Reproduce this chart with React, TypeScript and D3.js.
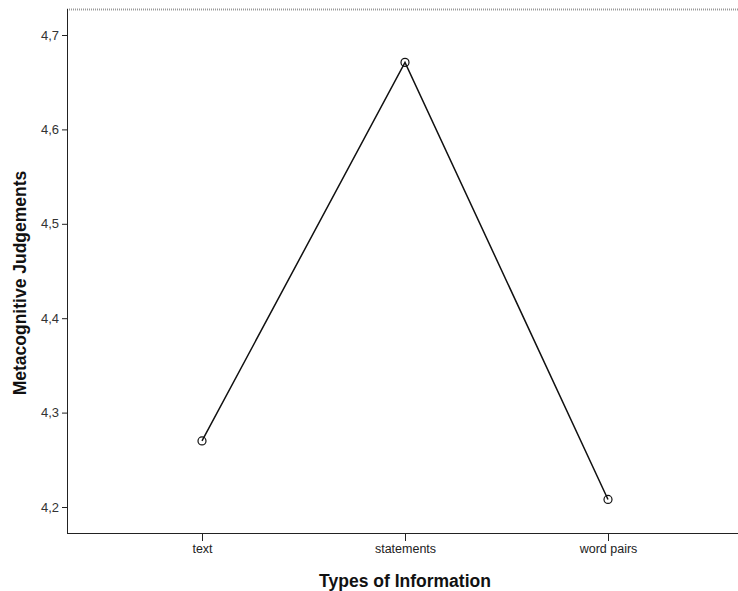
import React, { useRef, useEffect } from "react";
import * as d3 from "d3";

const categories = ["text", "statements", "word pairs"];
const means = [4.27, 4.671, 4.208];
const yTicks = [4.2, 4.3, 4.4, 4.5, 4.6, 4.7];

function App() {
  const ref = useRef<SVGSVGElement>(null);
  const width = 738;
  const height = 591;

  useEffect(() => {
    const svg = d3.select(ref.current);
    svg.selectAll("*").remove();

    const left = 67, top = 9, bottom = 533, right = 743;
    const font = "Arial, 'Liberation Sans', sans-serif";

    const x = d3.scalePoint<string>().domain(categories).range([202, 608]);
    const y = d3.scaleLinear().domain([4.2, 4.7]).range([507, 35]);

    // top frame line (dotted gray)
    svg.append("line")
      .attr("x1", left).attr("x2", right).attr("y1", top + 0.5).attr("y2", top + 0.5)
      .attr("stroke", "#999").attr("stroke-width", 2).attr("stroke-dasharray", "1 1");

    // y axis
    const yAxis = svg.append("g").attr("transform", `translate(${left},0)`)
      .call(d3.axisLeft(y).tickValues(yTicks).tickSize(5).tickPadding(3)
        .tickFormat(d => d3.format(".1f")(d as number).replace(".", ",")));
    yAxis.select(".domain").attr("d", `M0.5,${top}V${bottom}`).attr("stroke", "#222");
    yAxis.selectAll("line").attr("stroke", "#222");
    yAxis.selectAll("text").attr("font-family", font).attr("font-size", 13).attr("fill", "#333");

    // x axis
    const xAxis = svg.append("g").attr("transform", `translate(0,${bottom})`)
      .call(d3.axisBottom(x).tickSize(8).tickPadding(3));
    xAxis.select(".domain").attr("d", `M${left},0.5H${right}`).attr("stroke", "#222");
    xAxis.selectAll("line").attr("stroke", "#222");
    xAxis.selectAll("text").attr("font-family", font).attr("font-size", 12.5).attr("fill", "#222");

    // line
    const line = d3.line<number>().x((_, i) => x(categories[i])!).y(d => y(d));
    svg.append("path").datum(means).attr("d", line)
      .attr("fill", "none").attr("stroke", "#111").attr("stroke-width", 1.5);

    svg.selectAll("circle.pt").data(means).join("circle")
      .attr("class", "pt")
      .attr("cx", (_, i) => x(categories[i])!).attr("cy", d => y(d))
      .attr("r", 4).attr("fill", "none").attr("stroke", "#111").attr("stroke-width", 1.2);

    // titles
    svg.append("text").attr("x", 405).attr("y", 587).attr("text-anchor", "middle")
      .attr("font-family", font).attr("font-weight", "bold").attr("font-size", 17.5)
      .attr("fill", "#111").text("Types of Information");

    svg.append("text").attr("transform", "translate(26,283) rotate(-90)").attr("text-anchor", "middle")
      .attr("font-family", font).attr("font-weight", "bold").attr("font-size", 17.5)
      .attr("fill", "#111").text("Metacognitive Judgements");
  }, []);

  return (
    <svg ref={ref} width={width} height={height}
      style={{ position: "absolute", left: 0, top: 0, background: "#fff" }} />
  );
}

export default App;
